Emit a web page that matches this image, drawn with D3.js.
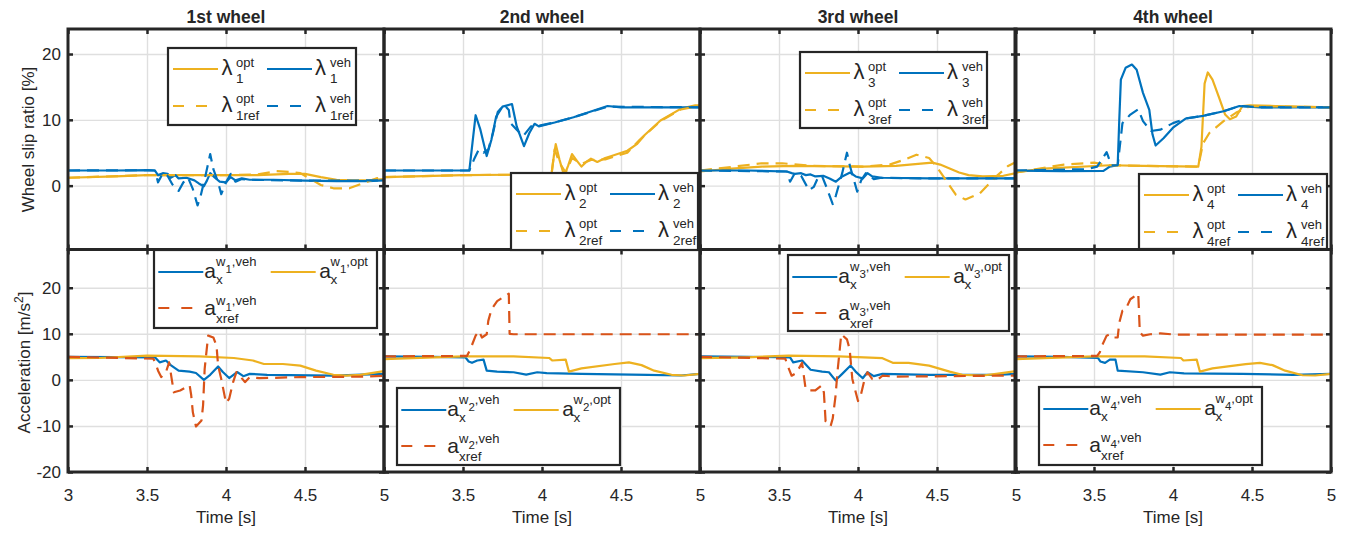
<!DOCTYPE html>
<html>
<head>
<meta charset="utf-8">
<script src="https://cdn.jsdelivr.net/npm/d3@7"></script>
<style>
  body { margin: 0; background: #fff; }
  svg text { font-family: "Liberation Sans", Arial, Helvetica, sans-serif; fill: #262626; }
</style>
</head>
<body>
<svg id="chart" width="1352" height="534"></svg>
<script>
// ticks and titles
const timeTicks = [3, 3.5, 4, 4.5, 5]
const slipTicks = [0, 10, 20]
const accTicks = [-20, -10, 0, 10, 20]
const wheelTitles = ['1st wheel', '2nd wheel', '3rd wheel', '4th wheel']

// wheel slip ratio [%], [time, value]
const w1SlipOpt = [[3,1.2],[3.3,1.4],[3.5,1.6],[3.8,1.6],[4.0,1.6],[4.2,1.6],[4.4,1.8],[4.5,1.8],[4.6,1.3],[4.7,0.9],[4.8,0.8],[4.9,0.8],[5,1.0]]
const w1SlipVeh = [[3,2.3],[3.3,2.3],[3.5,2.35],[3.55,2.3],[3.57,1.6],[3.6,1.9],[3.63,1.8],[3.65,1.2],[3.68,1.6],[3.7,1.1],[3.75,1.2],[3.8,0.8],[3.83,0.3],[3.86,-0.1],[3.88,0.8],[3.9,1.9],[3.93,1.2],[3.96,0.6],[4.0,0.5],[4.03,1.3],[4.06,0.8],[4.1,1.1],[4.15,0.9],[4.3,0.9],[4.5,0.75],[4.7,0.7],[4.9,0.7],[5,0.8]]
const w1SlipOptRef = [[3,1.2],[3.5,1.6],[4.0,1.6],[4.2,1.7],[4.32,2.2],[4.4,2.1],[4.47,1.9],[4.55,0.8],[4.6,0.1],[4.68,-0.4],[4.78,-0.4],[4.86,0.3],[4.95,1.1],[5,1.3]]
const w1SlipVehRef = [[3,2.3],[3.5,2.35],[3.55,2.3],[3.57,0.5],[3.6,1.9],[3.63,1.5],[3.66,0.2],[3.7,-0.8],[3.73,0.5],[3.76,1.2],[3.79,-0.5],[3.82,-3.0],[3.84,-1.5],[3.87,1.5],[3.9,4.8],[3.92,2.5],[3.95,0.5],[3.97,-1.3],[4.0,0.5],[4.03,1.8],[4.06,0.6],[4.1,1.0],[4.15,0.9],[4.5,0.75],[5,0.8]]

const w2SlipOpt = [[3,1.3],[3.5,1.6],[4.0,1.7],[4.06,1.7],[4.075,4.5],[4.087,6.3],[4.11,4.0],[4.14,1.5],[4.165,3.0],[4.19,4.8],[4.22,3.8],[4.25,2.9],[4.28,3.6],[4.31,4.1],[4.35,3.6],[4.4,4.2],[4.44,4.5],[4.54,5.3],[4.6,6.3],[4.65,7.7],[4.75,9.9],[4.88,11.7],[4.97,12.2],[5,12.2]]
const w2SlipVeh = [[3,2.3],[3.54,2.3],[3.56,6.5],[3.58,10.7],[3.61,8.5],[3.65,4.5],[3.68,7.0],[3.71,10.5],[3.75,12.0],[3.81,12.4],[3.84,9.0],[3.886,6.0],[3.92,8.0],[3.953,9.4],[3.98,9.0],[4.08,9.6],[4.2,10.4],[4.3,11.2],[4.415,12.1],[4.5,11.9],[5,11.9]]
const w2SlipOptRef = [[3,1.3],[3.5,1.6],[4.06,1.7],[4.08,5.5],[4.11,3.5],[4.15,2.0],[4.19,4.2],[4.25,3.3],[4.31,3.9],[4.4,4.0],[4.54,5.0],[4.62,7.0],[4.75,9.8],[4.88,11.6],[5,12.1]]
const w2SlipVehRef = [[3,2.3],[3.54,2.3],[3.57,4.0],[3.6,5.5],[3.63,5.0],[3.66,5.5],[3.69,8.0],[3.72,11.2],[3.76,12.3],[3.79,11.5],[3.8,9.5],[3.84,8.5],[3.88,7.5],[3.93,9.0],[3.98,9.1],[4.08,9.6],[4.2,10.4],[4.415,12.0],[5,11.9]]

const w3SlipOpt = [[3,2.15],[3.2,2.6],[3.39,2.9],[3.6,3.0],[4.03,2.9],[4.24,3.0],[4.38,3.3],[4.47,3.5],[4.52,3.2],[4.58,2.6],[4.64,2.0],[4.7,1.6],[4.79,1.4],[4.92,1.5],[5,1.9]]
const w3SlipVeh = [[3,2.3],[3.3,2.3],[3.55,2.15],[3.58,1.9],[3.6,1.8],[3.64,1.9],[3.67,1.6],[3.7,1.7],[3.73,1.4],[3.78,1.5],[3.82,1.1],[3.86,0.6],[3.9,1.4],[3.95,2.0],[3.985,1.4],[4.03,1.1],[4.06,1.9],[4.09,1.4],[4.15,1.2],[4.45,1.1],[5,1.1]]
const w3SlipOptRef = [[3,2.3],[3.22,2.9],[3.39,3.4],[3.52,3.4],[3.71,3.0],[4.03,2.9],[4.2,3.2],[4.3,4.0],[4.37,4.7],[4.45,4.2],[4.5,2.8],[4.54,1.4],[4.62,-1.4],[4.68,-2.1],[4.77,-1.2],[4.875,1.4],[4.95,3.0],[5,3.6]]
const w3SlipVehRef = [[3,2.3],[3.55,2.15],[3.57,0.6],[3.6,1.9],[3.64,1.5],[3.69,-0.7],[3.72,-0.2],[3.75,1.4],[3.77,1.6],[3.8,-0.2],[3.84,-2.8],[3.86,-1.5],[3.9,1.9],[3.93,5.0],[3.95,2.9],[3.995,-0.9],[4.02,0.8],[4.05,1.9],[4.1,1.0],[4.15,1.2],[4.45,1.1],[5,1.1]]

const w4SlipOpt = [[3,2.0],[3.18,2.6],[3.6,3.1],[3.81,3.0],[4.16,2.9],[4.18,5.9],[4.2,15.5],[4.22,17.2],[4.25,16.1],[4.29,13.5],[4.33,10.8],[4.36,10.1],[4.4,10.5],[4.44,12.1],[4.49,12.2],[4.65,12.1],[5,11.9]]
const w4SlipVeh = [[3,2.3],[3.3,2.2],[3.56,2.25],[3.6,2.9],[3.65,3.1],[3.66,10],[3.67,16.1],[3.7,17.9],[3.74,18.4],[3.77,17.6],[3.81,14.1],[3.85,11.5],[3.87,7.8],[3.89,6.1],[3.94,7.2],[4.0,8.8],[4.08,10.2],[4.19,10.6],[4.32,11.3],[4.42,12.1],[4.55,11.9],[5,11.9]]
const w4SlipOptRef = [[3,2.0],[3.31,3.2],[3.5,3.5],[3.6,3.1],[3.81,3.0],[4.16,2.9],[4.19,6.4],[4.23,8.0],[4.32,9.8],[4.4,11.1],[4.49,12.1],[5,11.9]]
const w4SlipVehRef = [[3,2.3],[3.45,2.5],[3.52,2.9],[3.58,5.1],[3.61,3.1],[3.65,3.1],[3.68,9.5],[3.73,10.8],[3.78,11.6],[3.81,9.8],[3.86,8.3],[3.92,8.5],[4.0,9.5],[4.08,10.2],[4.19,10.6],[4.32,11.3],[4.42,12.1],[4.55,11.9],[5,11.9]]

// acceleration [m/s^2], [time, value]
const w1AccVeh = [[3,5.0],[3.3,4.95],[3.55,4.9],[3.58,3.8],[3.62,4.2],[3.65,3.2],[3.7,2.0],[3.77,1.8],[3.81,1.5],[3.86,0],[3.9,1.1],[3.95,2.9],[3.98,1.7],[4.02,0.4],[4.07,1.7],[4.11,0.8],[4.15,1.3],[4.26,1.1],[4.68,0.9],[5,1.3]]
const w1AccOpt = [[3,4.7],[3.2,4.75],[3.5,5.25],[3.83,5.1],[4.05,4.75],[4.17,4.2],[4.24,3.45],[4.36,3.45],[4.47,3.1],[4.57,2.0],[4.68,1.1],[4.76,0.9],[4.85,1.1],[5,1.9]]
const w1AccRef = [[3,5.0],[3.54,4.6],[3.555,3.5],[3.57,2.0],[3.59,0.6],[3.62,1.7],[3.64,3.8],[3.655,0.5],[3.67,-2.7],[3.71,-2.3],[3.77,-1.2],[3.78,-3.4],[3.79,-7.0],[3.81,-10.1],[3.845,-8.8],[3.855,-5.5],[3.865,2.4],[3.887,9.6],[3.92,9.2],[3.94,7.4],[3.95,3.1],[3.97,0.2],[4.0,-5.0],[4.02,-4.1],[4.045,-0.5],[4.066,1.7],[4.09,0.8],[4.12,-0.5],[4.15,0.6],[4.21,0.36],[4.47,0.6],[4.89,0.7],[5,0.9]]

const w2AccVeh = [[3,5.1],[3.3,5.0],[3.515,4.9],[3.536,4.0],[3.557,3.7],[3.59,4.2],[3.63,4.4],[3.65,2.0],[3.716,1.8],[3.82,1.65],[3.9,1.15],[3.97,1.65],[4.03,1.45],[4.25,1.3],[4.67,1.1],[4.88,0.95],[5,1.3]]
const w2AccOpt = [[3,4.5],[3.5,5.1],[3.82,5.1],[4.045,4.75],[4.066,4.2],[4.15,4.4],[4.17,1.8],[4.25,2.5],[4.46,3.45],[4.55,3.8],[4.63,3.2],[4.71,2.0],[4.82,1.1],[4.9,0.95],[5,1.3]]
const w2AccRef = [[3,5.1],[3.525,5.2],[3.547,6.7],[3.58,9.6],[3.6,10.6],[3.62,9.2],[3.65,9.9],[3.66,12.8],[3.68,15.3],[3.716,17.1],[3.79,18.7],[3.795,10.0],[3.82,9.9],[5,9.9]]

const w3AccVeh = [[3,5.1],[3.3,5.0],[3.57,4.9],[3.59,3.8],[3.646,4.2],[3.7,2.2],[3.773,1.8],[3.816,1.65],[3.858,-0.1],[3.9,1.3],[3.953,3.1],[3.985,1.8],[4.03,0.36],[4.06,1.65],[4.1,0.8],[4.155,1.3],[4.45,1.1],[4.875,1.1],[5,1.3]]
const w3AccOpt = [[3,4.7],[3.3,4.9],[3.56,5.25],[3.88,5.1],[4.155,4.7],[4.22,3.7],[4.32,3.7],[4.45,3.1],[4.58,1.8],[4.66,1.1],[4.79,0.95],[4.875,1.3],[5,1.9]]
const w3AccRef = [[3,5.0],[3.54,4.6],[3.55,3.5],[3.58,0.9],[3.61,1.5],[3.646,3.7],[3.667,-1.6],[3.68,-2.3],[3.73,-2.3],[3.77,-1.2],[3.784,-2.7],[3.795,-9.0],[3.826,-10.1],[3.84,-8.4],[3.858,-3.4],[3.87,1.65],[3.894,9.9],[3.93,8.8],[3.947,6.7],[3.964,0.2],[4.0,-4.6],[4.017,-3.4],[4.04,-0.1],[4.06,1.65],[4.09,0.2],[4.12,-0.1],[4.155,0.9],[4.24,0.7],[4.875,0.9],[5,0.9]]

const w4AccVeh = [[3,5.1],[3.3,5.0],[3.525,4.75],[3.54,4.0],[3.57,3.7],[3.6,4.4],[3.636,4.4],[3.65,2.0],[3.81,1.65],[3.92,1.15],[3.98,1.65],[4.07,1.4],[4.44,1.3],[4.76,1.1],[5,1.3]]
const w4AccOpt = [[3,4.5],[3.5,5.1],[3.82,5.1],[4.05,4.75],[4.066,4.2],[4.15,4.4],[4.17,1.8],[4.25,2.5],[4.46,3.4],[4.55,3.7],[4.63,3.2],[4.71,2.0],[4.82,1.0],[4.9,0.95],[5,1.3]]
const w4AccRef = [[3,5.1],[3.52,5.2],[3.537,6.0],[3.55,7.4],[3.58,9.6],[3.6,9.9],[3.625,9.2],[3.65,9.2],[3.66,12.4],[3.68,15.0],[3.7,15.3],[3.73,17.5],[3.78,18.7],[3.79,10.3],[3.81,9.6],[3.856,9.9],[3.92,10.1],[4.02,9.8],[5,9.8]]

const slipOpt = [w1SlipOpt, w2SlipOpt, w3SlipOpt, w4SlipOpt]
const slipVeh = [w1SlipVeh, w2SlipVeh, w3SlipVeh, w4SlipVeh]
const slipOptRef = [w1SlipOptRef, w2SlipOptRef, w3SlipOptRef, w4SlipOptRef]
const slipVehRef = [w1SlipVehRef, w2SlipVehRef, w3SlipVehRef, w4SlipVehRef]
const accVeh = [w1AccVeh, w2AccVeh, w3AccVeh, w4AccVeh]
const accOpt = [w1AccOpt, w2AccOpt, w3AccOpt, w4AccOpt]
const accRef = [w1AccRef, w2AccRef, w3AccRef, w4AccRef]

const BLUE = '#0072BD', YELLOW = '#EDB120', ORANGE = '#D95319', INK = '#262626'
const DASH = '12,7', LEGEND_DASH = '11,12'

const svg = d3.select('#chart')
const colLeft = [68, 384, 700, 1015], panelW = 316
const slipRow = {top: 29, bottom: 249.5, domain: [-9.7, 23.8], ticks: slipTicks}
const accRow = {top: 249.5, bottom: 472, domain: [-20, 28.3], ticks: accTicks}

// legend boxes [x, y, w, h]
const slipLegendBox = [[168, 48, 188, 77], [511, 173, 187, 77], [800, 52, 187, 76], [1139, 174, 188, 75]]
const accLegendBox = [[154, 250, 223, 78], [397, 388, 223, 77], [788, 255, 221, 76], [1039, 387, 223, 78]]

const slipLayout = {sample: [[5, 50], [99, 144]], rowY: [21, 58], baseX: [53.5, 147], supX: [68, 162],
  baseY: [27, 63.7], supY: [18.5, 55], subY: [35, 72], baseSize: 22}
const accLayout = {sample: [[4.3, 49.3], [116.7, 161.7]], rowY: [22, 58], baseX: [50.3, 165.3], supX: [62, 176.5],
  baseY: [28, 64.7], supY: [16.3, 54.7], subY: [33.5, 73], baseSize: 21}

const panels = svg.append('g')
const frames = svg.append('g')
const legends = svg.append('g')

function drawPanel(col, row, series, id, showX, showY){
  const left = colLeft[col], right = left + panelW
  const h = row.bottom - row.top
  const x = d3.scaleLinear().domain([3, 5]).range([left, right])
  const y = d3.scaleLinear().domain(row.domain).range([row.bottom, row.top])
  const g = panels.append('g')

  // grid
  g.append('g').attr('transform', `translate(0,${row.bottom})`)
    .call(d3.axisBottom(x).tickValues([3.5, 4, 4.5]).tickSize(-h).tickFormat(''))
    .call(a => a.select('.domain').remove())
    .selectAll('line').attr('stroke', '#dfdfdf').attr('stroke-width', 1.4)
  g.append('g').attr('transform', `translate(${left},0)`)
    .call(d3.axisLeft(y).tickValues(row.ticks).tickSize(-panelW).tickFormat(''))
    .call(a => a.select('.domain').remove())
    .selectAll('line').attr('stroke', '#dfdfdf').attr('stroke-width', 1.4)

  svg.append('clipPath').attr('id', 'clip' + id)
    .append('rect').attr('x', left).attr('y', row.top).attr('width', panelW).attr('height', h)

  const line = d3.line().x(d => x(d[0])).y(d => y(d[1]))
  const lg = g.append('g').attr('clip-path', `url(#clip${id})`)
  for (const s of series){
    lg.append('path')
      .attr('d', line(s.data))
      .attr('fill', 'none')
      .attr('stroke', s.color)
      .attr('stroke-width', 2.2)
      .attr('stroke-linejoin', 'round')
      .attr('stroke-dasharray', s.dash ? DASH : null)
  }

  // box, inward ticks, labels
  const f = frames.append('g')
  const tickStyle = a => {
    a.select('.domain').remove()
    a.selectAll('line').attr('stroke', INK).attr('stroke-width', 2.5)
    a.selectAll('text').style('font-size', '17px').attr('fill', INK)
  }
  const xLabels = col === 0 ? timeTicks : timeTicks.slice(1)
  f.append('g').attr('transform', `translate(0,${row.bottom})`)
    .call(d3.axisBottom(x).tickValues(timeTicks).tickSize(-5).tickPadding(17)
      .tickFormat(d => showX && xLabels.includes(d) ? String(d) : ''))
    .call(tickStyle)
  f.append('g').attr('transform', `translate(0,${row.top})`)
    .call(d3.axisTop(x).tickValues(timeTicks).tickSize(-5).tickFormat(''))
    .call(tickStyle)
  f.append('g').attr('transform', `translate(${left},0)`)
    .call(d3.axisLeft(y).tickValues(row.ticks).tickSize(-5).tickPadding(7)
      .tickFormat(d => showY ? String(d) : ''))
    .call(tickStyle)
  f.append('g').attr('transform', `translate(${right},0)`)
    .call(d3.axisRight(y).tickValues(row.ticks).tickSize(-5).tickFormat(''))
    .call(tickStyle)
  f.append('rect')
    .attr('x', left).attr('y', row.top).attr('width', panelW).attr('height', h)
    .attr('fill', 'none').attr('stroke', INK).attr('stroke-width', 3)
}

function drawLegend(box, items, L){
  const g = legends.append('g')
  const [bx, by, bw, bh] = box
  g.append('rect').attr('x', bx).attr('y', by).attr('width', bw).attr('height', bh)
    .attr('fill', '#fff').attr('stroke', INK).attr('stroke-width', 2.2)
  for (const it of items){
    g.append('line')
      .attr('x1', bx + L.sample[it.c][0]).attr('x2', bx + L.sample[it.c][1])
      .attr('y1', by + L.rowY[it.r]).attr('y2', by + L.rowY[it.r])
      .attr('stroke', it.color).attr('stroke-width', 2.2)
      .attr('stroke-dasharray', it.dash ? LEGEND_DASH : null)
    g.append('text').attr('x', bx + L.baseX[it.c]).attr('y', by + L.baseY[it.r])
      .style('font-size', L.baseSize + 'px').text(it.base)
    const sup = g.append('text').attr('x', bx + L.supX[it.c]).attr('y', by + L.supY[it.r])
      .style('font-size', '13px')
    let low = false
    for (const p of it.sup){
      const t = sup.append('tspan').text(p.t)
      if (p.low && !low){ t.attr('dy', 6.5).style('font-size', '11.5px'); low = true }
      else if (!p.low && low){ t.attr('dy', -6.5); low = false }
    }
    g.append('text').attr('x', bx + L.supX[it.c]).attr('y', by + L.subY[it.r])
      .style('font-size', '13.5px').text(it.sub)
  }
}

for (let i = 0; i < 4; i++){
  const n = String(i + 1)
  drawPanel(i, slipRow, [
    {data: slipOpt[i], color: YELLOW},
    {data: slipVeh[i], color: BLUE},
    {data: slipOptRef[i], color: YELLOW, dash: true},
    {data: slipVehRef[i], color: BLUE, dash: true}
  ], 's' + i, false, i === 0)
  drawPanel(i, accRow, [
    {data: accVeh[i], color: BLUE},
    {data: accOpt[i], color: YELLOW},
    {data: accRef[i], color: ORANGE, dash: true}
  ], 'a' + i, true, i === 0)

  drawLegend(slipLegendBox[i], [
    {c: 0, r: 0, color: YELLOW, base: 'λ', sup: [{t: 'opt'}], sub: n},
    {c: 1, r: 0, color: BLUE, base: 'λ', sup: [{t: 'veh'}], sub: n},
    {c: 0, r: 1, color: YELLOW, dash: true, base: 'λ', sup: [{t: 'opt'}], sub: n + 'ref'},
    {c: 1, r: 1, color: BLUE, dash: true, base: 'λ', sup: [{t: 'veh'}], sub: n + 'ref'}
  ], slipLayout)
  drawLegend(accLegendBox[i], [
    {c: 0, r: 0, color: BLUE, base: 'a', sup: [{t: 'w'}, {t: n, low: true}, {t: ',veh'}], sub: 'x'},
    {c: 1, r: 0, color: YELLOW, base: 'a', sup: [{t: 'w'}, {t: n, low: true}, {t: ',opt'}], sub: 'x'},
    {c: 0, r: 1, color: ORANGE, dash: true, base: 'a', sup: [{t: 'w'}, {t: n, low: true}, {t: ',veh'}], sub: 'xref'}
  ], accLayout)

  const cx = colLeft[i] + panelW / 2
  svg.append('text').attr('x', cx).attr('y', 22.7).attr('text-anchor', 'middle')
    .style('font-size', '17.5px').style('font-weight', 'bold').attr('fill', '#000').text(wheelTitles[i])
  svg.append('text').attr('x', cx).attr('y', 522.5).attr('text-anchor', 'middle')
    .style('font-size', '17px').text('Time [s]')
}

svg.append('text').attr('transform', 'translate(33.5,139.5) rotate(-90)').attr('text-anchor', 'middle')
  .style('font-size', '17px').text('Wheel slip ratio [%]')
const accLabel = svg.append('text').attr('transform', 'translate(29.5,362.5) rotate(-90)')
  .attr('text-anchor', 'middle').style('font-size', '17px')
accLabel.append('tspan').text('Acceleration [m/s')
accLabel.append('tspan').attr('dy', -7).style('font-size', '12px').text('2')
accLabel.append('tspan').attr('dy', 7).text(']')
</script>
</body>
</html>
